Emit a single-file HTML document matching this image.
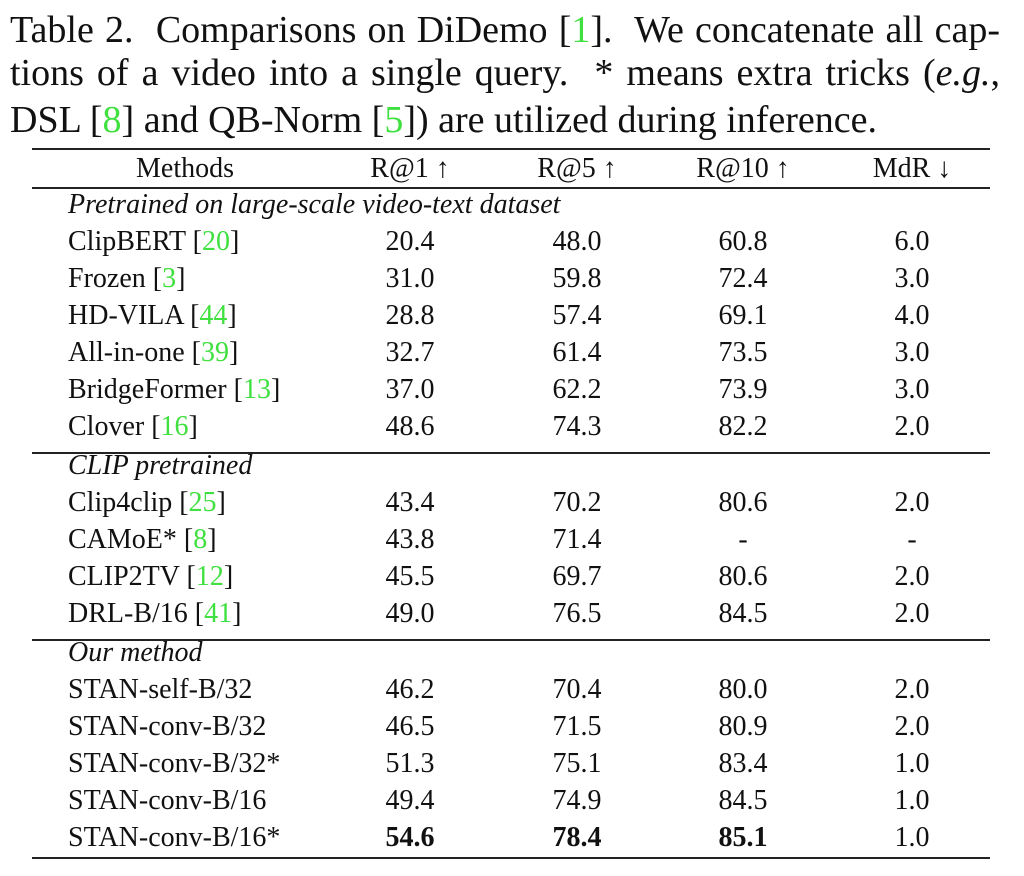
<!DOCTYPE html>
<html><head><style>
body{margin:0;width:1024px;height:876px;background:#fff;position:relative;overflow:hidden;font-family:"Liberation Serif",serif;color:#111}
.cap{position:absolute;left:10px;width:990px;font-size:38px;line-height:40px;text-align:justify;text-align-last:justify;white-space:nowrap}
.g{color:#3fe03f}
.r{position:absolute;left:0;width:1024px;height:37px;font-size:28px;line-height:37px}
.r span{position:absolute;text-align:center;width:160px}
.r .m{left:68px;width:auto;text-align:left}
.c1{left:330px}.c2{left:497px}.c3{left:663px}.c4{left:832px}
.h{position:absolute;left:32px;width:958px;background:#222}
i{font-style:italic}
</style></head><body>
<div class="cap" style="top:10px">Table 2.&nbsp; Comparisons on DiDemo [<span class="g">1</span>].&nbsp; We concatenate all cap-</div>
<div class="cap" style="top:53px">tions of a video into a single query.&nbsp; * means extra tricks (<i>e.g.</i>,</div>
<div class="cap" style="top:100px;width:auto;text-align:left;text-align-last:left">DSL [<span class="g">8</span>] and QB-Norm [<span class="g">5</span>]) are utilized during inference.</div>
<div class="h" style="top:148px;height:2px"></div>
<div class="h" style="top:187px;height:1.5px"></div>
<div class="h" style="top:452px;height:1.5px"></div>
<div class="h" style="top:639px;height:1.5px"></div>
<div class="h" style="top:857px;height:2px"></div>
<div class="r" style="top:150px"><span style="left:105px">Methods</span><span class="c1">R@1 ↑</span><span class="c2">R@5 ↑</span><span class="c3">R@10 ↑</span><span class="c4">MdR ↓</span></div>
<div class="r" style="top:186px"><span class="m"><i>Pretrained on large-scale video-text dataset</i></span></div>
<div class="r" style="top:223px"><span class="m">ClipBERT [<span class="g" style="position:static">20</span>]</span><span class="c1">20.4</span><span class="c2">48.0</span><span class="c3">60.8</span><span class="c4">6.0</span></div>
<div class="r" style="top:260px"><span class="m">Frozen [<span class="g" style="position:static">3</span>]</span><span class="c1">31.0</span><span class="c2">59.8</span><span class="c3">72.4</span><span class="c4">3.0</span></div>
<div class="r" style="top:297px"><span class="m">HD-VILA [<span class="g" style="position:static">44</span>]</span><span class="c1">28.8</span><span class="c2">57.4</span><span class="c3">69.1</span><span class="c4">4.0</span></div>
<div class="r" style="top:334px"><span class="m">All-in-one [<span class="g" style="position:static">39</span>]</span><span class="c1">32.7</span><span class="c2">61.4</span><span class="c3">73.5</span><span class="c4">3.0</span></div>
<div class="r" style="top:371px"><span class="m">BridgeFormer [<span class="g" style="position:static">13</span>]</span><span class="c1">37.0</span><span class="c2">62.2</span><span class="c3">73.9</span><span class="c4">3.0</span></div>
<div class="r" style="top:408px"><span class="m">Clover [<span class="g" style="position:static">16</span>]</span><span class="c1">48.6</span><span class="c2">74.3</span><span class="c3">82.2</span><span class="c4">2.0</span></div>
<div class="r" style="top:447px"><span class="m"><i>CLIP pretrained</i></span></div>
<div class="r" style="top:484px"><span class="m">Clip4clip [<span class="g" style="position:static">25</span>]</span><span class="c1">43.4</span><span class="c2">70.2</span><span class="c3">80.6</span><span class="c4">2.0</span></div>
<div class="r" style="top:521px"><span class="m">CAMoE* [<span class="g" style="position:static">8</span>]</span><span class="c1">43.8</span><span class="c2">71.4</span><span class="c3">-</span><span class="c4">-</span></div>
<div class="r" style="top:558px"><span class="m">CLIP2TV [<span class="g" style="position:static">12</span>]</span><span class="c1">45.5</span><span class="c2">69.7</span><span class="c3">80.6</span><span class="c4">2.0</span></div>
<div class="r" style="top:595px"><span class="m">DRL-B/16 [<span class="g" style="position:static">41</span>]</span><span class="c1">49.0</span><span class="c2">76.5</span><span class="c3">84.5</span><span class="c4">2.0</span></div>
<div class="r" style="top:634px"><span class="m"><i>Our method</i></span></div>
<div class="r" style="top:671px"><span class="m">STAN-self-B/32</span><span class="c1">46.2</span><span class="c2">70.4</span><span class="c3">80.0</span><span class="c4">2.0</span></div>
<div class="r" style="top:708px"><span class="m">STAN-conv-B/32</span><span class="c1">46.5</span><span class="c2">71.5</span><span class="c3">80.9</span><span class="c4">2.0</span></div>
<div class="r" style="top:745px"><span class="m">STAN-conv-B/32*</span><span class="c1">51.3</span><span class="c2">75.1</span><span class="c3">83.4</span><span class="c4">1.0</span></div>
<div class="r" style="top:782px"><span class="m">STAN-conv-B/16</span><span class="c1">49.4</span><span class="c2">74.9</span><span class="c3">84.5</span><span class="c4">1.0</span></div>
<div class="r" style="top:819px"><span class="m">STAN-conv-B/16*</span><span class="c1"><b>54.6</b></span><span class="c2"><b>78.4</b></span><span class="c3"><b>85.1</b></span><span class="c4">1.0</span></div>
</body></html>
